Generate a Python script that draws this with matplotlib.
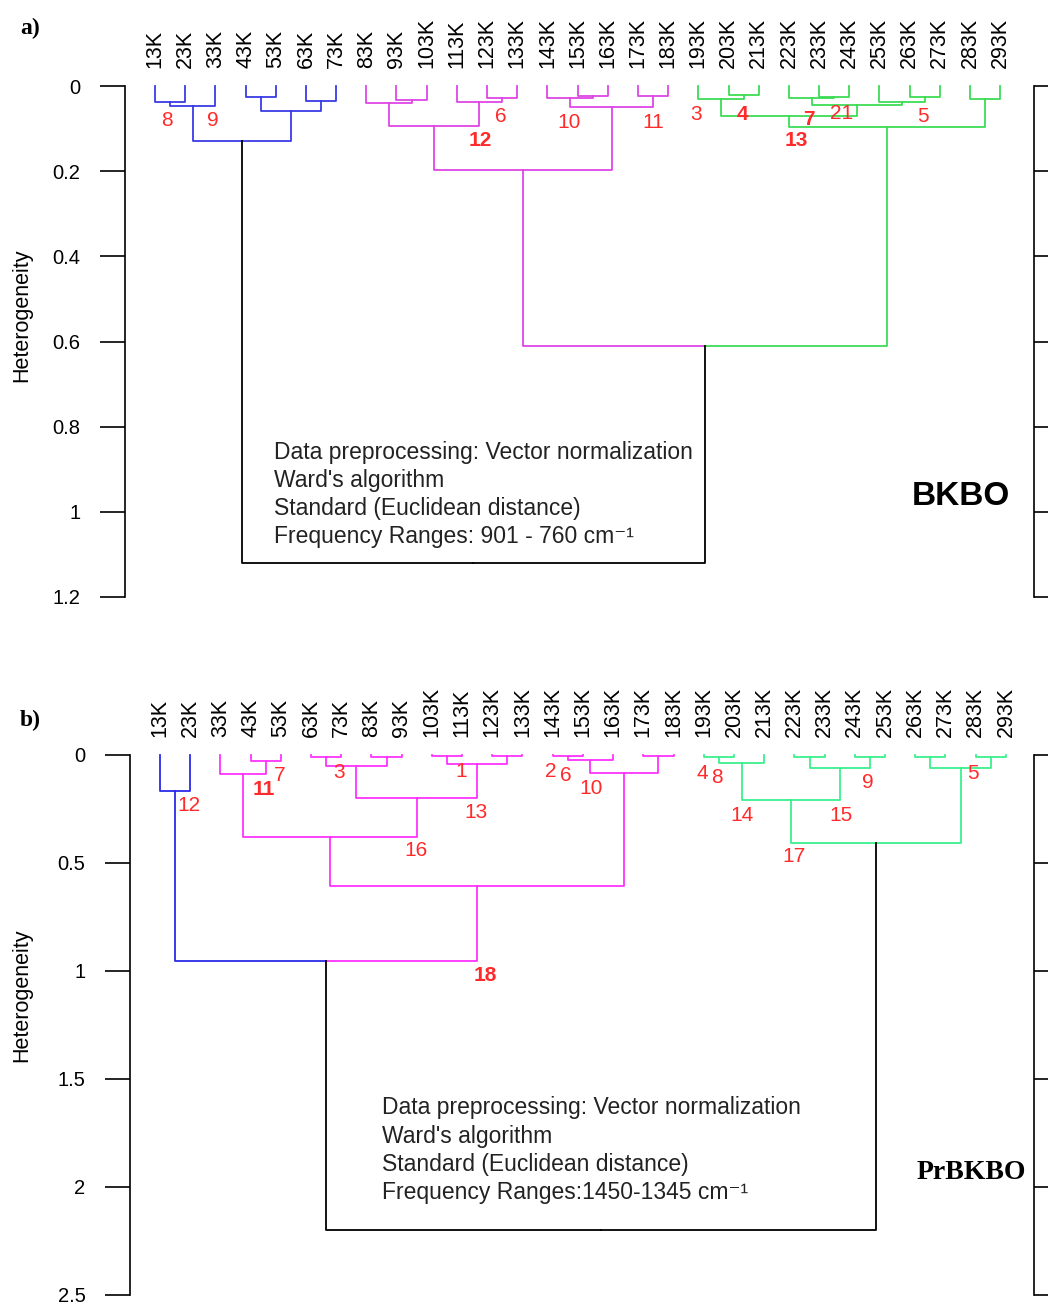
import matplotlib
matplotlib.use("Agg")
import matplotlib.pyplot as plt
from matplotlib.ticker import FormatStrFormatter

plt.rcParams['font.family'] = ['Liberation Sans', 'DejaVu Sans']

# leaf labels, same order for both panels
temps = ['%dK' % t for t in range(13, 294, 10)]

# merges in hclust style: negative = leaf number, positive = earlier merge
a_left = [-1, 1, -4, -6, 3, 2,
          -9, -8, -12, -11, 8, -15, -14, -17, 13, 11,
          -20, -19, -23, -22, -26, -25, 20, 18, -28, 24,
          16, 6]
a_right = [-2, -3, -5, -7, 4, 5,
           -10, 7, -13, 9, 10, -16, 12, -18, 14, 15,
           -21, 17, -24, 19, -27, 21, 22, 23, -29, 25,
           26, 27]
a_height = [0.037, 0.047, 0.026, 0.035, 0.058, 0.128,
            0.033, 0.041, 0.029, 0.037, 0.094, 0.023, 0.029, 0.023, 0.049, 0.197,
            0.021, 0.031, 0.026, 0.029, 0.025, 0.037, 0.045, 0.070, 0.031, 0.096,
            0.61, 1.12]
a_groups = ['b'] * 6 + ['m'] * 10 + ['g'] * 10 + [('m', 'g'), ('k', 'k')]

b_left = [-1,
          -4, -3, -6, -8, 4, -10, -12, 7, 6, 3, -14, 12, -17, 13, 11,
          1,
          -19, 18, -22, -24, 20, 19, -26, -28, 24, 23,
          17]
b_right = [-2,
           -5, 2, -7, -9, 5, -11, -13, 8, 9, 10, -15, -16, -18, 14, 15,
           16,
           -20, -21, -23, -25, 21, 22, -27, -29, 25, 26,
           27]
b_height = [0.167,
            0.026, 0.089, 0.008, 0.008, 0.051, 0.006, 0.006, 0.042, 0.200, 0.378,
            0.005, 0.023, 0.004, 0.085, 0.605,
            0.954,
            0.011, 0.036, 0.009, 0.008, 0.062, 0.208, 0.011, 0.009, 0.062, 0.409,
            2.20]
b_groups = ['b'] + ['m'] * 15 + [('b', 'm')] + ['g'] * 10 + [('k', 'k')]

# red cluster numbers (text, x in leaf units, height, bold)
a_labels = [('8', 1.40, 0.082, False), ('9', 2.92, 0.082, False),
            ('6', 12.46, 0.071, False), ('12', 11.77, 0.129, True),
            ('10', 14.72, 0.085, False), ('11', 17.50, 0.086, False),
            ('3', 18.93, 0.068, False), ('4', 20.45, 0.068, True),
            ('7', 22.67, 0.078, True), ('21', 23.73, 0.064, False),
            ('5', 26.45, 0.072, False), ('13', 22.24, 0.127, True)]
b_labels = [('12', 1.96, 0.236, False), ('11', 4.44, 0.162, True),
            ('7', 4.96, 0.093, False), ('3', 6.93, 0.082, False),
            ('16', 9.47, 0.444, False), ('1', 10.96, 0.077, False),
            ('13', 11.47, 0.267, False), ('2', 13.94, 0.077, False),
            ('6', 14.43, 0.093, False), ('10', 15.26, 0.154, False),
            ('18', 11.76, 1.023, True), ('4', 18.94, 0.085, False),
            ('8', 19.45, 0.105, False), ('14', 20.26, 0.282, False),
            ('9', 24.44, 0.128, False), ('15', 23.54, 0.278, False),
            ('5', 27.92, 0.085, False), ('17', 21.99, 0.471, False)]

a_notes = ['Data preprocessing: Vector normalization', "Ward's algorithm",
           'Standard (Euclidean distance)', 'Frequency Ranges: 901 - 760 cm\u207b\u00b9']
b_notes = ['Data preprocessing: Vector normalization', "Ward's algorithm",
           'Standard (Euclidean distance)', 'Frequency Ranges:1450-1345 cm\u207b\u00b9']


def draw_tree(ax, left, right, height, groups, cmap):
    pos = {}

    def node(i):
        if i < 0:
            return -i, 0.0
        return pos[i]

    for k in range(len(height)):
        xa, ha = node(left[k])
        xb, hb = node(right[k])
        h = height[k]
        xm = (xa + xb) / 2.0
        g = groups[k]
        ca, cb = (g, g) if isinstance(g, str) else g
        ax.plot([xa, xa, xm], [ha, h, h], color=cmap[ca], lw=1.3, clip_on=False)
        ax.plot([xm, xb, xb], [h, h, hb], color=cmap[cb], lw=1.3, clip_on=False)
        pos[k + 1] = (xm, h)


def style_axis(ax, xlim, ymax, yticks):
    ax.set_xlim(*xlim)
    ax.set_ylim(ymax, 0)
    ax.spines['top'].set_visible(False)
    ax.spines['bottom'].set_visible(False)
    ax.xaxis.tick_top()
    ax.set_xticks(range(1, len(temps) + 1))
    ax.set_xticklabels(temps, rotation=90, fontsize=15.5)
    ax.tick_params(axis='x', length=0, pad=13)
    ax.set_yticks(yticks)
    ax.yaxis.set_major_formatter(FormatStrFormatter('%g'))
    ax.yaxis.set_ticks_position('both')
    ax.tick_params(axis='y', direction='out', length=18, width=1.2, pad=14,
                   labelsize=14.5, labelright=False)
    for s in ('left', 'right'):
        ax.spines[s].set_linewidth(1.2)
    ax.set_ylabel('Heterogeneity', fontsize=15.5)


fig = plt.figure(figsize=(10.48, 13.06), dpi=100)

# panel a
ax1 = fig.add_axes([125 / 1048, 1 - 597 / 1306, 909 / 1048, 511 / 1306])
cmap_a = {'b': '#3a3ae6', 'm': '#de45e6', 'g': '#3ddc55', 'k': 'black'}
draw_tree(ax1, a_left, a_right, a_height, a_groups, cmap_a)
style_axis(ax1, (0.006, 30.12), 1.2, [0, 0.2, 0.4, 0.6, 0.8, 1, 1.2])
ax1.yaxis.set_label_coords(-0.102, 0.552)
for t, x, y, bold in a_labels:
    ax1.text(x, y, t, color='#ff2a2a', fontsize=15, ha='center', va='center',
             fontweight='bold' if bold else 'normal')
for i, line in enumerate(a_notes):
    ax1.text(4.94, 0.861 + i * 0.066, line, fontsize=16.5, color='#222222',
             ha='left', va='center')
ax1.text(27.71, 0.965, 'BKBO', fontsize=24, fontweight='bold', ha='center', va='center')

# panel b
ax2 = fig.add_axes([130 / 1048, 1 - 1295 / 1306, 904 / 1048, 540 / 1306])
cmap_b = {'b': '#2a2ae8', 'm': '#ff33ff', 'g': '#3cf08c', 'k': 'black'}
draw_tree(ax2, b_left, b_right, b_height, b_groups, cmap_b)
style_axis(ax2, (0.01, 29.93), 2.5, [0, 0.5, 1, 1.5, 2, 2.5])
ax2.yaxis.set_label_coords(-0.108, 0.556)
for t, x, y, bold in b_labels:
    ax2.text(x, y, t, color='#ff2a2a', fontsize=15, ha='center', va='center',
             fontweight='bold' if bold else 'normal')
for i, line in enumerate(b_notes):
    ax2.text(8.35, 1.634 + i * 0.13, line, fontsize=16.5, color='#222222',
             ha='left', va='center')
ax2.text(27.85, 1.935, 'PrBKBO', fontsize=20, fontweight='bold', ha='center', va='center',
         family='Liberation Serif')

fig.text(30 / 1048, 1 - 28 / 1306, 'a)', fontsize=17, fontweight='bold',
         family='Liberation Serif', ha='center', va='center')
fig.text(30 / 1048, 1 - 720 / 1306, 'b)', fontsize=17, fontweight='bold',
         family='Liberation Serif', ha='center', va='center')

fig.savefig('out.png', dpi=100)
